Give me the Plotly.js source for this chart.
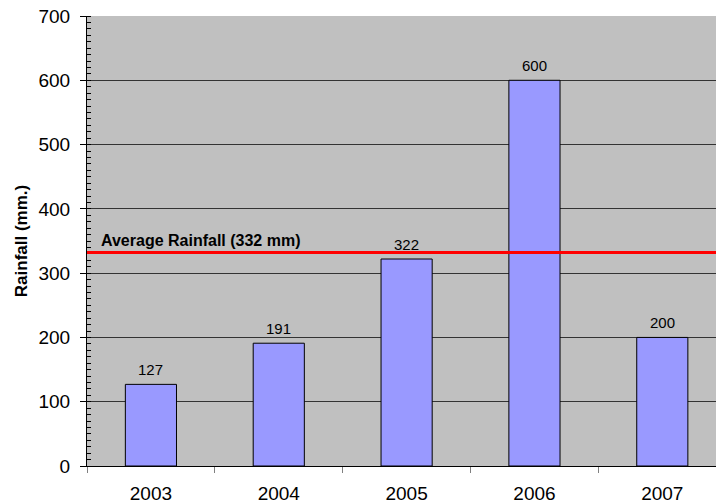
<!DOCTYPE html>
<html>
<head>
<meta charset="utf-8">
<script src="https://cdn.plot.ly/plotly-3.0.1.min.js"></script>
<style>html,body{margin:0;padding:0;background:#fff;}#chart{width:716px;height:504px;}</style>
</head>
<body>
<div id="chart"></div>
<script>
const years = ['2003', '2004', '2005', '2006', '2007'];
const rainfall = [127, 191, 322, 600, 200];
const averageRainfall = 332;
const averageLabel = 'Average Rainfall (332 mm)';
const yTitle = 'Rainfall (mm.)';

const font = 'Arial, "Liberation Sans", sans-serif';

const bars = {
  type: 'bar',
  x: years,
  y: rainfall,
  marker: {color: '#9999FF', line: {color: '#000', width: 1}},
  hoverinfo: 'x+y'
};

// category axis: annotation x given as category index
const valueLabels = years.map((yr, i) => ({
  xref: 'x', x: i, yref: 'y', y: rainfall[i],
  text: String(rainfall[i]), showarrow: false,
  xanchor: 'center', yanchor: 'bottom', yshift: 4,
  font: {family: font, size: 15, color: '#000'}
}));

const layout = {
  width: 716, height: 504,
  margin: {l: 87, r: 0, t: 16, b: 38},
  paper_bgcolor: '#fff',
  plot_bgcolor: '#C0C0C0',
  bargap: 0.6,
  showlegend: false,
  font: {family: font, color: '#000'},
  xaxis: {
    type: 'category',
    range: [-0.5, 4.42],
    tickson: 'boundaries',
    ticks: 'outside', ticklen: 6, tickcolor: '#808080',
    showgrid: false,
    showline: true, linecolor: '#000', linewidth: 1,
    tickfont: {family: font, size: 19, color: '#000'},
    ticklabelstandoff: 10,
    fixedrange: true
  },
  yaxis: {
    range: [0, 700],
    dtick: 100,
    ticks: 'outside', ticklen: 6, tickcolor: '#000',
    showgrid: true, gridcolor: '#333', gridwidth: 1,
    zeroline: false,
    showline: true, linecolor: '#000', linewidth: 1,
    tickfont: {family: font, size: 19, color: '#000'},
    ticklabelstandoff: 6,
    minor: {dtick: 10, ticks: 'inside', ticklen: 4, tickcolor: '#000', showgrid: false},
    title: {text: yTitle, font: {family: font, size: 17, color: '#000', weight: 'bold'}, standoff: 6},
    fixedrange: true
  },
  shapes: [{
    type: 'line', xref: 'paper', x0: 0, x1: 1, yref: 'y', y0: averageRainfall, y1: averageRainfall,
    line: {color: '#FF0000', width: 3}
  }],
  annotations: [{
    xref: 'paper', x: 0, xshift: 12, xanchor: 'left',
    yref: 'y', y: averageRainfall, yshift: 2, yanchor: 'bottom',
    text: '<b>' + averageLabel + '</b>', showarrow: false,
    font: {family: font, size: 16, color: '#000'}
  }].concat(valueLabels)
};

Plotly.newPlot('chart', [bars], layout, {displayModeBar: false, staticPlot: true});
</script>
</body>
</html>
